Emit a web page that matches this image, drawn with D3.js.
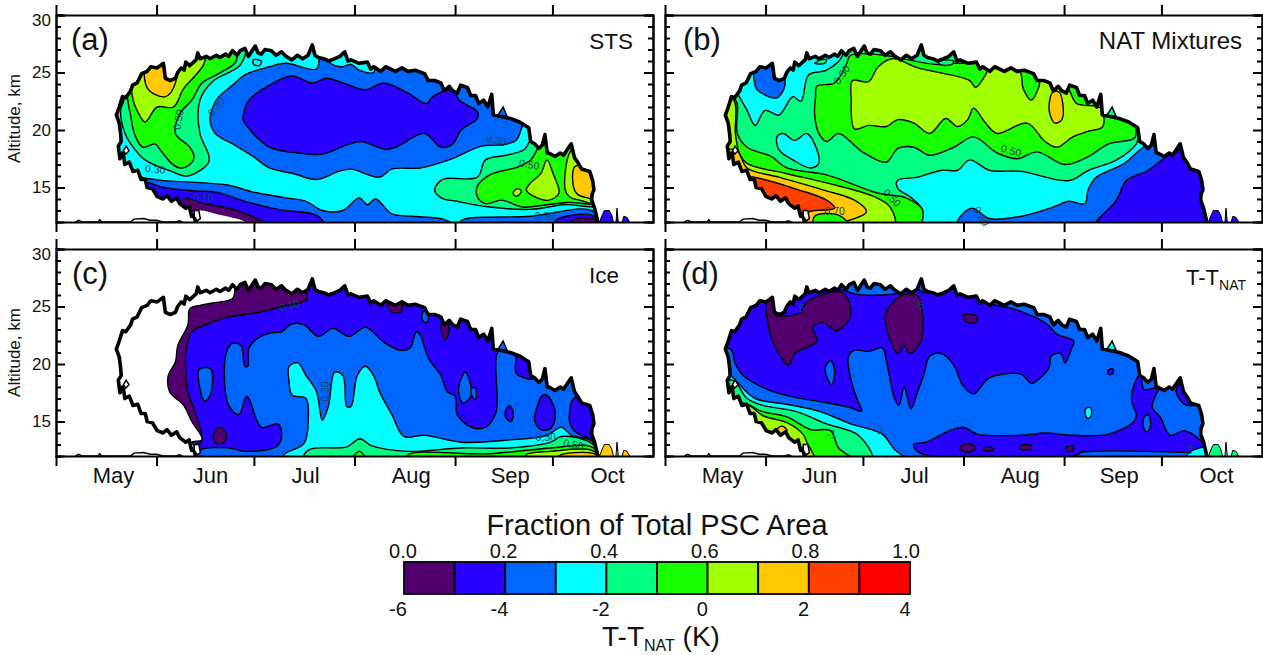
<!DOCTYPE html>
<html>
<head>
<meta charset="utf-8">
<script src="https://cdn.jsdelivr.net/npm/d3@7"></script>
<style>
body{margin:0;background:#fff;overflow:hidden}
text{font-family:"Liberation Sans",Arial,sans-serif;fill:#111}
</style>
</head>
<body>
<div id="chart"></div>
<script>
//colour bar
var bandEdges=[0,0.1,0.2,0.3,0.4,0.5,0.6,0.7,0.8,0.9,1]
var bandColors=["#52006f","#2800ff","#0066ff","#00ffff","#00ff80","#18ff00","#a0ff00","#ffc800","#ff4000","#ff0000"]
var fractionTicks=[0,0.2,0.4,0.6,0.8,1]
var tempTicks=[-6,-4,-2,0,2,4]

//time axis, days since 1 May
var monthStarts=[0,31,61,92,123,153]
var monthNames=["May","Jun","Jul","Aug","Sep","Oct"]
var monthLabelDays=[17.7,47.6,76.9,109.5,140,170]

//outer edge of the PSC area [day, km], same in all panels
var envelope=[[43,12],[42.4,12.6],[41.8,12.5],[41,13.4],[40,13.2],[38.1,13.6],[37.2,14.1],[35.6,13.8],[34.2,14.3],[33,14],[31.2,14.2],[29.7,14.9],[28.1,15],[27.5,15.7],[26.2,15.7],[25.2,16.5],[23.7,16.4],[22.6,17.2],[21.2,17],[20.8,17.8],[20.5,18],[19.7,17.5],[19.2,18.6],[20.1,19],[19.9,19.7],[19.5,20.6],[18.6,21.3],[19.5,22],[20.5,22.9],[21.5,22.8],[23,23.4],[23.6,23.9],[25,24.1],[26.4,24.9],[28.1,25.1],[29.2,25.5],[31.2,25.4],[33.1,25.8],[33.7,24.5],[35.2,24.3],[36.8,24.5],[37.5,25],[38.6,25.4],[39.5,25.2],[40,25.9],[41.2,25.6],[43.2,26.1],[43.7,26.7],[44.4,26.2],[46.3,26.4],[47.5,26.2],[49.4,26.5],[50.5,26.3],[52.3,26.6],[53.2,26.4],[54.4,26.9],[55.8,26.5],[56.8,26.9],[58.2,27.1],[59.3,26.4],[60,26.7],[61.4,27.3],[62.3,26.7],[63.3,26.6],[64.4,27],[66.4,26.9],[67.8,26.5],[69.5,26.8],[70.9,26.4],[72.7,26.1],[74.4,26.5],[76,26.2],[77.7,26.5],[79,27.4],[79.8,26.5],[80.9,26.3],[82.5,26.2],[84,26],[85.9,26.2],[87.5,26.4],[89,26.8],[90,26],[90.9,26.1],[93.4,25.8],[96,25.9],[97,25.3],[97.9,25.5],[100.1,25.1],[101.6,25.5],[104.6,25.1],[106.6,25.4],[108.5,25.1],[110.7,25.2],[113.6,24.9],[114.7,24.3],[116.7,24.3],[118.6,24.1],[119.7,23.4],[121.2,23.8],[122.3,23.4],[123.7,23.2],[124.7,23.9],[126.8,23.7],[127.8,23],[129.3,23],[130.3,22.3],[131.8,22.6],[133.1,22],[134.3,23.1],[134.8,21.3],[136.8,21.2],[140,21],[142.9,20.7],[145.7,20.2],[146.3,19],[147.5,18.8],[148.8,18.4],[149.9,18.7],[150.7,19.6],[151.4,18],[151.9,18],[153.8,17.7],[155.4,18],[156.4,17.8],[158.8,18.8],[159.8,17.6],[160.8,17.2],[162,16.6],[164.5,16.4],[165.4,15.6],[165.8,14.8],[165.2,14.4],[165.1,13.9],[166,13.2],[167,12]]
var islandTri=[[136.2,21.3],[137.8,22],[139,21.2]]
var holeLow=[[42.6,13],[44,13],[44.5,12.3],[43.5,12.1],[42.6,12.5]]
var holeLeft=[[20.8,18.2],[21.6,18.6],[22.5,18.2],[21.5,17.9]]
var octBlobs=[[[167.5,12],[168.5,12.7],[169,13],[170.5,13],[171.3,12.6],[171.8,12]],[[172.6,12],[172.9,13.2],[173.3,12]],[[174.5,12],[175,12.5],[176,12.4],[176.8,12]]]
var groundSpecks=[[6,12],[7,12.15],[8,12],[13,12],[13.5,12.2],[14,12],[23,12],[24,12.25],[27,12.3],[29,12.15],[31,12.15],[33,12],[37,12],[38,12.1],[39,12]]

//filled contour regions per panel, [band index, [day,km]...], later ones paint over earlier ones
var stsRegions=[
[4,[[57.9,27.8],[56.6,25.7],[47.9,24.2],[44.1,22.6],[44.1,19.7],[46.9,17.7],[46.6,17.1],[40.4,16],[35.4,16.4],[27.3,17.4],[22.9,18.8],[21,19.8],[19.8,21.7],[20.8,22.6],[20.8,25.5]]],
[5,[[55.6,27.8],[55.6,26.5],[54.8,25.8],[49.1,24.8],[44.8,24.1],[41.6,22.6],[37.9,21.4],[36.6,19.7],[41,18.5],[42.3,17.7],[41,17],[37.9,16.7],[35.4,17.1],[31.6,18.4],[30.4,18.8],[26.6,18.5],[24.1,19.6],[22.9,21.2],[21.9,22.8],[21.9,25.5]]],
[6,[[45.4,27.8],[45.4,25.8],[42.9,24.8],[39.1,23.6],[36,22],[31,22],[27.3,20.7],[25.4,21.4],[23.5,22.8],[23.5,26.1]]],
[7,[[27.9,26.1],[28.1,23.6],[33.5,22.9],[36.6,24.1],[36.6,26.1]]],
[2,[[47.3,21.2],[49.1,22.6],[54.1,23.9],[57.9,24.8],[65.4,25.5],[70.4,25.8],[79.8,25.3],[81,26.4],[82.9,26.4],[84.1,25.8],[87.3,25.5],[90.4,25.7],[92.9,25.2],[97.3,25],[98.5,27],[145.4,24],[142.3,19.9],[141,19.1],[136.6,18.7],[130.4,18.6],[120.4,17.4],[111.6,16.7],[102.9,16.6],[99.1,15.9],[90.4,16.6],[86.6,16.4],[79.8,15.7],[72.9,16.2],[65.4,16.7],[60.4,17.7],[54.1,18.8],[49.1,19.6],[47.3,20.6]]],
[1,[[57.3,21.2],[59.1,22.6],[65.4,23.9],[72.3,24.7],[78.5,24.1],[82.9,24.5],[87.9,24.1],[94.8,23.5],[100.4,24.1],[107.9,23.2],[113.5,22.3],[115.4,22.9],[121.6,23.5],[123.5,22.6],[129.1,21.6],[129.1,21],[124.1,20],[121.6,18.8],[117.9,18.5],[112.9,19.7],[104.1,18.5],[101,18.3],[93.5,19],[89.1,18.7],[81.6,17.9],[74.1,18],[65.4,18.5],[60.4,19.7],[57.3,20.9]]],
[2,[[25.4,15.9],[27.3,15.8],[32.9,15.6],[45.4,15.4],[52.9,15.2],[60.4,14.6],[70.4,14.1],[76.6,13.8],[81.6,13],[87.9,13],[92.9,14.1],[95.4,13.5],[97.9,14],[102.9,12.7],[109.1,12.5],[119.1,12.2],[122.9,11.5],[25.4,11.5]]],
[1,[[26.6,15.4],[32.9,15],[42.9,14.7],[49.1,14.6],[57.9,13.8],[67.9,13.1],[80.4,12.5],[82.3,11.5],[26.6,11.5]]],
[0,[[39.1,14],[45.4,13.6],[55.4,13],[66,11.5],[38.5,11.5]]],
[-1,[[44.1,13],[49.1,12.7],[57.9,12],[42.9,11.5],[41.6,12.7]]],
[4,[[116,14.8],[118.5,15.7],[129.1,15.9],[131.6,17.4],[137.9,17.8],[143.5,18.3],[145.4,19.1],[151.6,20.3],[167.9,17.4],[167.9,13.6],[155.4,13.5],[145.4,13.1],[132.9,13.3],[122.9,13.8],[118,14.1]]],
[5,[[129.1,15.1],[132.9,16.1],[141.6,16.8],[145.4,17.4],[147.9,18.6],[150.4,20.3],[167.9,17.4],[167.9,13.8],[156.6,13.7],[150.4,13.5],[142.9,13.3],[136.6,13.9],[131.6,13.6],[129.1,14.2]]],
[6,[[144.1,14.8],[145.4,15.4],[148.5,16.2],[150.4,17.4],[152.3,16.2],[154.1,14.5],[151,13.9],[146.6,14.2]]],
[6,[[156,14.8],[156.6,17.4],[157.9,18.3],[160.4,19.1],[167.9,17.4],[167.9,13.6],[160.4,13.9],[157.3,14.2]]],
[6,[[140.1,14.6],[141.4,14.9],[142.6,14.7],[141.6,14.3],[140.4,14.3]]],
[7,[[158.5,15.1],[158.9,16.8],[161.6,17],[167.9,17.4],[167.9,13.9],[162.9,14.1],[159.8,14.4]]],
[2,[[124.1,12.1],[145.4,12.5],[164.1,13],[167.9,11.5],[124.1,11.5]]],
[1,[[152.9,12.1],[164.1,12.6],[167.9,11.5],[152.9,11.5]]],
[0,[[157.9,12.1],[164.8,12.3],[167.9,11.5],[157.9,11.5]]],
[3,[[60.4,26.1],[62.9,26],[62.3,25.6],[60.6,25.7]]]
]

var natRegions=[
[3,[[22.9,22.9],[25.3,21.7],[27.8,20.4],[30.8,21.7],[35.1,21.3],[39.4,22.9],[41.9,22.5],[44.3,24.8],[49.8,25.2],[54.7,26.5],[53.5,28.1],[29,28.1],[20.4,24.1]]],
[4,[[46.1,25.8],[48,26.1],[49.8,26.1],[49.2,25.8]]],
[2,[[27.5,24.3],[28.4,23.5],[34.5,22.8],[37,23.9],[36.4,24.6],[33.9,24.5],[32.1,26.4],[27.8,26.4]]],
[3,[[34.5,19.4],[36.4,19.7],[40,19.1],[43.7,19.7],[46.8,18.3],[47.4,17.1],[44.9,16.7],[39.4,17.4],[35.1,18.3]]],
[5,[[46.8,23.8],[52.3,24.1],[55.9,25.7],[57.2,26.5],[70,26.4],[73.1,26.2],[84.1,25.7],[89,25.8],[96.3,25.8],[114.7,25.5],[146.5,21.4],[145.3,20.3],[144.7,19.3],[136.7,18.8],[130.6,17.7],[123.3,17],[114.7,18.1],[108.6,17.5],[102.4,18],[95.1,19.4],[89,18.5],[81.6,17.8],[76.7,18.5],[71.8,18.4],[68.2,17.2],[60.8,18.1],[53.5,19.7],[49.8,19],[47.4,19.7],[46.1,21.4],[46.4,22.9]]],
[4,[[84.3,26],[89,26],[88.4,25.7],[84.7,25.7]]],
[6,[[57.8,24.3],[62.7,24.2],[65.7,25.5],[70,26.2],[78,25.4],[93.9,24.3],[95.7,23.7],[98.8,24.8],[100,25.4],[109.2,25.1],[110.4,23.6],[112.9,22.6],[115.3,23.8],[115.9,24.8],[122,24.2],[124.5,23.5],[126.9,22.3],[134.3,21.9],[134.9,20.3],[130.6,19.9],[125.7,19.4],[120.8,18.5],[117.1,19],[111.6,20.6],[102.4,19.7],[98.8,20.6],[95.1,21.9],[93.3,20.9],[90.2,20.3],[86.5,21],[81.6,19.7],[76.7,20.6],[71.8,20.9],[68.2,20.3],[62.7,20.4],[58.4,20.1],[57.4,22.6]]],
[7,[[118.4,22.3],[119.6,23.3],[121.4,23.3],[122.6,22.3],[122.3,20.9],[120.2,20.6],[118.6,21.4]]],
[3,[[71.6,15.6],[78,15.9],[85.3,16.5],[90.2,16.5],[93.9,17.4],[100,16.5],[109.8,16.4],[124.5,15.6],[130.6,16.5],[139.2,17.4],[145.3,18.8],[146.5,19.7],[175.9,16.8],[175.9,11.5],[78,11.5],[79.4,13],[75.5,14.2],[71.8,14.9]]],
[2,[[90.2,11.5],[90.2,12.1],[94.5,13.2],[100,12.3],[109.8,12.5],[119.6,13.3],[124.5,13.8],[129.4,13.6],[130.4,14.8],[133,15.9],[141.6,17.1],[146.5,18.3],[157.5,20.3],[175.9,16.8],[175.9,11.5]]],
[1,[[132.4,11.5],[139.2,13.9],[142.2,15.6],[149,16.5],[155.1,17.8],[157.5,18],[163.6,19.7],[175.9,13.9],[175.9,11.5]]],
[5,[[21.7,22.6],[22.3,19.7],[25.3,18.5],[32.7,17.7],[37.6,16.7],[49.8,16.1],[65.7,14.5],[74.3,14.1],[79.4,13],[77.7,11.5],[29,11.5],[10.6,16.8],[14.3,22.6]]],
[6,[[21.1,22.6],[21.7,19.7],[22.9,18],[25.3,17.1],[37.6,16.2],[49.8,15.4],[64.5,14.2],[69.4,13.3],[70.6,11.5],[29,11.5],[10.6,16.8],[14.3,22.6]]],
[7,[[21.7,18.3],[25.3,16.7],[35.1,15.9],[48.6,14.8],[58.4,13.9],[62.1,12.9],[58.4,12.3],[29,11.5],[10.6,16.8]]],
[8,[[25.3,15.9],[29,15.8],[41.2,14.8],[49.8,13.9],[52.3,13.2],[46.1,13],[41.2,12.7],[29,12.7],[22.9,15]]],
[5,[[46.1,12.5],[53.5,12.6],[57.2,11.5],[46.1,11.5]]]
]

var iceRegions=[
[0,[[54.8,27.7],[54.8,26.4],[54.1,25.7],[47.9,25.3],[44.1,25.1],[41,24.8],[40.4,23.4],[37.3,21.6],[36.6,20.2],[34.4,19],[34.8,17.6],[39.1,16.4],[41.6,15],[44.8,13.4],[41.6,13.2],[42.9,12.7],[45.4,11.5],[170.4,11.5],[170.4,27.7]]],
[1,[[77.3,27.7],[76.6,26.4],[76.9,25.6],[69.1,25],[60.4,24.4],[52.9,24.1],[46.6,23.5],[41.6,22.8],[39.8,21.1],[39.8,19.3],[40.4,17.6],[42.9,15.6],[44.8,13.5],[44.1,13.1],[44.1,11.5],[170.4,11.5],[170.4,27.7]]],
[0,[[101.6,25.3],[106,25.3],[105.6,24.5],[102.9,24.5]]],
[0,[[118.3,23.7],[119.8,23.7],[120.4,22.8],[119.1,22.1],[118.1,22.8]]],
[0,[[48.5,14.1],[50.4,14.5],[52.3,13.8],[51,13.1],[48.5,13.2]]],
[2,[[59.1,21.4],[61.6,22.2],[65.4,22.7],[69.1,22.8],[72.3,23.5],[76,23.4],[80.4,22.4],[84.8,23.1],[89.8,22.4],[94.8,23.2],[100.4,21.9],[105.4,21.2],[108.5,21.4],[110.4,22.8],[111.6,22.5],[114.1,20.5],[117.9,19],[119.8,17.6],[122.3,17.2],[122.9,15.6],[127.3,14.5],[131.6,14.5],[134.8,15.8],[135.6,21.1],[140.6,20.8],[141,19.2],[146.6,18.7],[148.5,19.2],[150.4,20.2],[157.9,19.6],[167.9,16.7],[167.9,11.5],[44.1,11.5],[44.1,12.5],[52.9,12.7],[57.9,12.4],[67.9,12.9],[69.1,14.1],[67.9,14.8],[62.9,14.5],[58.5,17.2],[56,15.6],[52.9,16.4],[51.6,18.8],[52.3,21.1],[54.1,21.8],[56.6,21.6],[57.9,19.8],[58.8,19.8]]],
[1,[[146.9,15.8],[149.1,17.3],[150.4,17.3],[153,15.8],[151.6,14.4],[148.5,14.3],[146.6,15.1]]],
[1,[[157.3,15.6],[157.9,16.7],[160.4,17.3],[167.9,16.7],[167.9,13.5],[159.1,14.1],[157.3,15]]],
[1,[[137.6,15.8],[138.9,16.4],[140.1,15.8],[139.4,15],[137.9,15.3]]],
[2,[[43.8,19.5],[47.3,19.6],[47.9,18.2],[46.6,17],[45.4,16.8],[44.1,17.9]]],
[2,[[123.5,18.2],[125.4,19.3],[127.3,17.3],[124.8,16.6],[123.5,17.3]]],
[2,[[127.3,17.9],[128.5,17.9],[128.5,16.9],[127.3,17.3]]],
[2,[[112.3,24.5],[114.1,24.7],[113.5,23.6],[112.3,23.8]]],
[3,[[71.4,19.8],[74.1,20.1],[76.6,19],[79.8,17.6],[81.6,15.1],[83.5,16.4],[85.4,19.3],[87.9,19],[89.1,16.3],[90.4,16.3],[92.3,19],[94.8,19.8],[97.3,19],[99.1,17.6],[102.9,15.6],[106.6,13.7],[112.9,13.8],[124.1,13.2],[139.1,13.4],[150.4,13.8],[154.8,14.5],[157.9,13.8],[164.1,13.3],[167.9,11.5],[70.4,11.5],[69.8,12.1],[76,13.1],[77.3,15.3],[76.6,17],[72.3,17.3],[71.4,18.5]]],
[4,[[76,11.5],[76,12.1],[77.9,12.6],[89.1,12.8],[93.1,13.5],[96.6,12.9],[107.9,12.4],[124.1,12.7],[139.1,12.7],[151.6,13.2],[154.8,13.7],[164.1,13.1],[167.9,11.5]]],
[5,[[90.4,11.5],[92.9,12.4],[95.4,11.5]]],
[5,[[107.9,11.5],[107.9,12.1],[132.9,12.2],[151.6,12.7],[164.1,12.8],[167.9,11.5]]],
[6,[[144.1,11.5],[144.1,12.1],[151.6,12.4],[164.1,12.5],[167.9,11.5]]],
[7,[[154.1,11.5],[154.1,12],[164.8,12.2],[167.9,11.5]]]
]

var tempRegions=[
[1,[[20.2,21.3],[21.7,20],[24.1,19],[31.5,17.8],[40,17.1],[48.6,16.7],[57.2,16.2],[60.6,15.9],[59,17.1],[57.2,18.8],[56.5,20.6],[58.4,21.2],[62.7,21.1],[67,21.4],[68.2,20.3],[70.6,17.1],[72.1,16.4],[73.7,18],[75.8,16.1],[78,17.7],[79.8,19.1],[81.6,20.7],[85.3,20.9],[89,19.9],[91.9,18.1],[95.1,17.4],[100,18.8],[109.8,19.1],[112.9,18.3],[115.3,18.7],[118.4,19.7],[119,20.7],[122,20.9],[123.3,20.1],[125.1,21.2],[126,22],[120.8,22.6],[117.7,23.5],[112.2,24.3],[106.1,24.9],[100,25.3],[90.2,27.8],[80.4,27.8],[79.8,26.2],[78,26.5],[70.6,26.1],[67,26],[58.4,26.1],[54.1,26.5],[29,27.8],[14.3,25.5],[14.3,21.3]]],
[0,[[31.5,25.5],[31.5,23.8],[34.5,21.2],[38.2,19.9],[40,20.9],[46.8,22],[45.5,23.2],[48.6,23.6],[52.9,22.9],[57.2,24.3],[54.7,26.2],[43.7,25.4],[41.9,24.5],[33.9,24.3],[32.7,25.5]]],
[0,[[67.9,24.3],[71.8,25.8],[75.5,26.1],[78,25.9],[79.4,24.3],[78.9,22],[75.5,20.9],[73.7,21.6],[71.8,20.9],[68.8,22.6]]],
[0,[[92,24.2],[94.5,24.3],[96.3,24.1],[95.7,23.6],[92.7,23.7]]],
[2,[[49.4,19.7],[51,20.3],[52.3,19.4],[51.3,18.2],[49.6,19.1]]],
[1,[[136.5,19.4],[137.9,19.6],[138.2,19.2],[136.7,19.1]]],
[3,[[129.6,16.1],[131.2,16.2],[131.2,15.4],[130,15.3]]],
[1,[[76.7,13],[80.4,13.2],[87.8,14.2],[92,14.5],[96.3,13.9],[109.8,13.8],[117.1,14],[125.7,13.8],[136.7,13.9],[144.1,14.9],[145.3,15.5],[143.8,16.8],[144.7,18.3],[146.5,19.1],[147.7,17.8],[152.6,18],[151.4,17.4],[150.2,16.2],[152.6,15.4],[155.7,13.8],[160,14.2],[165.5,13.2],[166.1,12.2],[161.2,12.3],[128.2,12.3],[126.9,12.1],[80.4,12.1],[77.4,12.5]]],
[2,[[147.7,15.4],[149,15.6],[149.6,14.5],[148.3,14.1],[147.5,14.5]]],
[1,[[157.5,17.7],[159.4,18.4],[167.3,16.8],[163.6,16.4],[160,16.5]]],
[0,[[90.8,12.7],[93.3,13.1],[95.7,12.7],[93.3,12.3]]],
[0,[[98.2,12.7],[101.2,12.7],[101.2,12.5],[98.2,12.5]]],
[0,[[109.5,12.9],[112.9,12.9],[112.9,12.6],[109.5,12.6]]],
[0,[[123.5,12.7],[125.7,12.9],[125.7,12.5],[123.9,12.4]]],
[3,[[161.2,12.2],[166.7,12.7],[167.3,11.5],[161.2,11.5]]],
[3,[[19.8,19],[22.3,18.4],[27.8,17],[37.6,16.5],[47.4,15.9],[57.2,14.8],[67,13.9],[70.6,12.6],[74.9,11.5],[29,11.5],[10.6,16.8]]],
[4,[[20.7,18.6],[25.3,17],[30.2,16.4],[40,15.9],[49.8,14.8],[59.6,13.8],[63.9,11.5],[29,11.5],[10.6,16.8]]],
[5,[[25.3,16.5],[29.6,15.9],[37.6,15.4],[44.9,14.3],[51,14.2],[53.5,12.7],[59,11.5],[29,11.5],[10.6,16.8]]],
[6,[[25.3,16.5],[30.2,15.5],[37.6,14.9],[42.5,13.9],[43.7,13.2],[46.1,11.5],[29,11.5],[10.6,16.8]]],
[7,[[34.5,14.3],[36.1,14.6],[37.6,14.2],[36.1,13.8],[34.9,14]]]
]

//contour labels [day, km, text, angle]
var stsLabels=[[37.5,20.9,"0.50",-80],[49.1,22,"0.30",-50],[30.4,16.6,"0.30",5],[45,14.1,"0.10",0],[134.8,19.1,"0.30",15],[145,17,"0.50",10],[149.8,12.5,"0.30",0]]
var natLabels=[[54.5,24.8,"0.50",-55],[106.7,18.2,"0.50",15],[70,14.1,"0.50",45],[52.3,12.9,"0.70",0],[97.5,12.5,"0.30",60]]
var iceLabels=[[71.4,25.1,"0.10",-15],[82.5,17.6,"0.30",-90],[150,13.6,"0.30",0],[158.5,13,"0.50",10]]
var tempLabels=[[65.7,14.2,"-3",0],[51.4,13.9,"-1",0],[161.2,12.5,"-3",0],[78.3,25.1,"-5",0],[41.6,24.8,"-5",0]]

var width=1263,height=655
var panelW=597,panelH=207
var svg=d3.select("#chart").append("svg")
    .attr("width",width)
    .attr("height",height)
    .style("display","block")

//dayFix: left-hand panels were read with a slightly short day step
var panels=[
    {id:"a",left:56,top:15,letterX:15,regions:stsRegions,labels:stsLabels,base:3,islandBand:2,octBand:1,title:"STS",titleX:577,titleSize:22.5,dayFix:1.006,yText:true},
    {id:"b",left:665,top:15,letterX:18,regions:natRegions,labels:natLabels,base:4,islandBand:4,octBand:1,title:"NAT Mixtures",titleX:577,titleSize:24,dayFix:1,yText:false},
    {id:"c",left:56,top:249,letterX:16,regions:iceRegions,labels:iceLabels,base:-1,islandBand:2,octBand:7,title:"Ice",titleX:563,titleSize:22.5,dayFix:1.006,yText:true,months:true},
    {id:"d",left:665,top:249,letterX:16,regions:tempRegions,labels:tempLabels,base:2,islandBand:3,octBand:4,title:"T-T",sub:"NAT",titleX:581,titleSize:22,dayFix:1,yText:false,months:true}
]

function bandFill(i){
    return i<0?"#fff":bandColors[i];
}

function drawPanel(p){
    var x=d3.scaleLinear().domain([0,184]).range([0,panelW])
    var y=d3.scaleLinear().domain([12,30]).range([panelH,0])
    var line=d3.line().x(d=>x(d[0])).y(d=>y(d[1]))
    var smooth=d3.line().x(d=>x(d[0]*p.dayFix)).y(d=>y(d[1])).curve(d3.curveCatmullRomClosed.alpha(0.5))
    var g=svg.append("g").attr("transform","translate("+p.left+","+p.top+")")

    g.append("clipPath").attr("id","clip-"+p.id)
        .append("path").attr("d",line(envelope)+"Z")

    //filled bands
    var inner=g.append("g").attr("clip-path","url(#clip-"+p.id+")")
    inner.append("path").attr("d",line(envelope)+"Z").attr("fill",bandFill(p.base))
    inner.selectAll("path.band")
        .data(p.regions)
        .join("path")
        .attr("class","band")
        .attr("d",d=>smooth(d[1]))
        .attr("fill",d=>bandFill(d[0]))
        .attr("stroke",d=>d[0]<0?"none":"#000")
        .attr("stroke-width",1.4)
        .attr("stroke-linejoin","round")

    //contour labels
    g.selectAll("text.clabel")
        .data(p.labels)
        .join("text")
        .attr("class","clabel")
        .attr("transform",d=>"translate("+x(d[0]*p.dayFix)+","+y(d[1])+") rotate("+d[3]+")")
        .attr("text-anchor","middle")
        .attr("dy","0.35em")
        .style("font-size","10.5px")
        .style("fill","#0b4a5c")
        .text(d=>d[2])

    //outer edge
    g.append("path").attr("d",line(envelope))
        .attr("fill","none").attr("stroke","#000").attr("stroke-width",3.6).attr("stroke-linejoin","round")
    g.append("path").attr("d",line(holeLow)+"Z")
        .attr("fill","#fff").attr("stroke","#000").attr("stroke-width",1.5)
    g.append("path").attr("d",line(holeLeft)+"Z")
        .attr("fill","#fff").attr("stroke","#000").attr("stroke-width",1.5)
    g.append("path").attr("d",line(islandTri)+"Z")
        .attr("fill",bandFill(p.islandBand)).attr("stroke","#000").attr("stroke-width",1.5)
    g.selectAll("path.oct")
        .data(octBlobs)
        .join("path")
        .attr("class","oct")
        .attr("d",d=>line(d))
        .attr("fill",bandFill(p.octBand))
        .attr("stroke","#000")
        .attr("stroke-width",1)
    g.append("path").attr("d",line(groundSpecks))
        .attr("fill","none").attr("stroke","#000").attr("stroke-width",1.5)

    //axes
    var yMajor=[15,20,25,30]
    var yMinor=[13,14,16,17,18,19,21,22,23,24,26,27,28,29]
    g.append("g").attr("class","ax")
        .call(d3.axisLeft(y).tickValues(yMajor).tickSize(-9).tickPadding(5).tickFormat(p.yText?d3.format("d"):""))
    g.append("g").attr("class","ax")
        .call(d3.axisLeft(y).tickValues(yMinor).tickSize(-5).tickFormat(""))
    g.append("g").attr("class","ax").attr("transform","translate("+panelW+",0)")
        .call(d3.axisRight(y).tickValues(yMajor).tickSize(-9).tickFormat(""))
    g.append("g").attr("class","ax").attr("transform","translate("+panelW+",0)")
        .call(d3.axisRight(y).tickValues(yMinor).tickSize(-5).tickFormat(""))
    g.append("g").attr("class","ax")
        .call(d3.axisTop(x).tickValues(monthStarts).tickSize(10).tickSizeOuter(0).tickFormat(""))
    g.append("g").attr("class","ax").attr("transform","translate(0,"+panelH+")")
        .call(d3.axisBottom(x).tickValues(monthStarts).tickSize(10).tickSizeOuter(0).tickFormat(""))
    g.selectAll(".ax path,.ax line").attr("stroke","#000").attr("stroke-width",2)
    g.selectAll(".ax text").style("font-size","17px").style("fill","#111")
    //top label sits a little lower
    g.selectAll(".ax .tick text").filter(d=>d==30).attr("dy","0.6em")

    if(p.yText){
        g.append("text")
            .attr("transform","translate(-36,"+(panelH/2)+") rotate(-90)")
            .attr("text-anchor","middle")
            .style("font-size","17px")
            .text("Altitude, km")
    }
    if(p.months){
        g.selectAll("text.month")
            .data(monthNames)
            .join("text")
            .attr("class","month")
            .attr("x",(d,i)=>x(monthLabelDays[i]))
            .attr("y",panelH+27)
            .attr("text-anchor","middle")
            .style("font-size","22px")
            .text(d=>d)
    }

    g.append("text").attr("x",p.letterX).attr("y",35)
        .style("font-size","31px").text("("+p.id+")")
    var t=g.append("text").attr("x",p.titleX).attr("y",p.sub?36:34)
        .attr("text-anchor","end")
        .style("font-size",p.titleSize+"px")
        .text(p.title)
    if(p.sub){
        t.append("tspan").attr("dy",5).style("font-size","14px").text(p.sub)
    }
}

panels.forEach(drawPanel)

//colour bar
var barX=d3.scaleLinear().domain([0,1]).range([404,910])
var fracX=d3.scaleLinear().domain([0,1]).range([403,906])
var tempX=d3.scaleLinear().domain([-6,4]).range([398,905])
var bar=svg.append("g")
bar.selectAll("rect")
    .data(bandColors)
    .join("rect")
    .attr("x",(d,i)=>barX(bandEdges[i]))
    .attr("y",562)
    .attr("width",(d,i)=>barX(bandEdges[i+1])-barX(bandEdges[i]))
    .attr("height",32)
    .attr("fill",d=>d)
    .attr("stroke","#000")
    .attr("stroke-width",1.8)
bar.selectAll("text.frac")
    .data(fractionTicks)
    .join("text")
    .attr("class","frac")
    .attr("x",d=>fracX(d))
    .attr("y",558)
    .attr("text-anchor","middle")
    .style("font-size","20px")
    .text(d=>d.toFixed(1))
bar.selectAll("text.temp")
    .data(tempTicks)
    .join("text")
    .attr("class","temp")
    .attr("x",d=>tempX(d))
    .attr("y",616)
    .attr("text-anchor","middle")
    .style("font-size","20px")
    .text(d=>d)
bar.append("text").attr("x",657).attr("y",535)
    .attr("text-anchor","middle")
    .style("font-size","29px")
    .text("Fraction of Total PSC Area")
var tLabel=bar.append("text").attr("x",661).attr("y",646)
    .attr("text-anchor","middle")
    .style("font-size","28px")
    .text("T-T")
tLabel.append("tspan").attr("dy",5).style("font-size","16px").text("NAT")
tLabel.append("tspan").attr("dy",-5).text(" (K)")
</script>
</body>
</html>
